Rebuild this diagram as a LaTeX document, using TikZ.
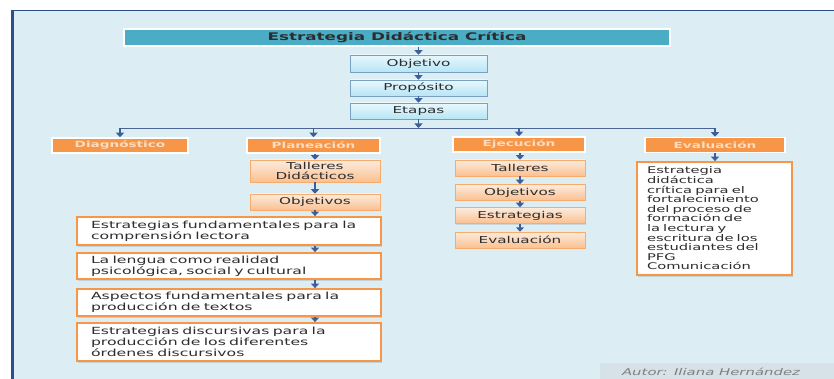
\documentclass[tikz,border=0pt]{standalone}
\usepackage{fontspec}
\setmainfont{DejaVu Sans}[FakeStretch=1.6]
\usetikzlibrary{arrows.meta,shadows}

\definecolor{panelbg}{RGB}{220,237,243}
\definecolor{panelline}{RGB}{47,79,140}
\definecolor{titlefill}{RGB}{75,172,198}
\definecolor{bluetop}{RGB}{232,248,253}
\definecolor{bluebot}{RGB}{183,229,245}
\definecolor{blueline}{RGB}{120,160,195}
\definecolor{orangehd}{RGB}{247,150,70}
\definecolor{orangetxt}{RGB}{252,220,195}
\definecolor{peachtop}{RGB}{253,236,222}
\definecolor{peachbot}{RGB}{250,192,144}
\definecolor{arrowblue}{RGB}{60,95,155}
\definecolor{txtgray}{RGB}{45,45,45}
\definecolor{authorbg}{RGB}{214,226,232}

\begin{document}
\begin{tikzpicture}[x=1pt,y=-1pt,
  box/.style={inner sep=0pt, font=\fontsize{9.5}{10}\selectfont, text=txtgray},
  headline/.style={box, fill=titlefill, draw=white, line width=1.5pt,
    drop shadow={opacity=0.25,shadow xshift=1pt,shadow yshift=-1.5pt},
    font=\fontsize{10.5}{11}\selectfont\bfseries},
  bluebox/.style={box, top color=bluetop, bottom color=bluebot, draw=blueline,
    line width=0.6pt, minimum width=137pt, minimum height=16pt,
    drop shadow={opacity=0.2,shadow xshift=1pt,shadow yshift=-1pt}},
  orangehead/.style={box, fill=orangehd, draw=white, line width=1.5pt,
    text=orangetxt, font=\fontsize{8.5}{10}\selectfont\bfseries, minimum height=15pt,
    drop shadow={opacity=0.2,shadow xshift=1pt,shadow yshift=-1pt}},
  peachbox/.style={box, top color=peachtop, bottom color=peachbot, draw=orangehd!80,
    line width=0.5pt, minimum width=130pt, minimum height=16pt, align=center,
    drop shadow={opacity=0.2,shadow xshift=1pt,shadow yshift=-1pt}},
  textbox/.style={box, fill=white, draw=orangehd, line width=1.8pt, align=left,
    inner xsep=14pt, text width=276pt, minimum height=26pt,
    font=\fontsize{9.8}{10.8}\selectfont,
    drop shadow={opacity=0.25,shadow xshift=1pt,shadow yshift=-1.5pt}},
  arr/.style={draw=arrowblue, line width=1.8pt, -{Triangle[width=8pt,length=4.5pt]}},
  bus/.style={draw=arrowblue!80!gray, line width=0.9pt}
]
\useasboundingbox (0,0) rectangle (834,379);
% panel and its border
\fill[panelbg] (11,10) rectangle (834,379);
\draw[panelline, line width=1.5pt] (11,10.5) -- (834,10.5);
\draw[panelline, line width=3pt] (12.5,379) -- (12.5,10);
\fill[authorbg] (600,363) rectangle (834,379);
\node[font=\fontsize{9.3}{9}\selectfont\itshape, text=gray] (autor) at (711,372) {Autor: Iliana Hernández};

% top chain
\node[headline, minimum width=546pt, minimum height=17pt] (titulo) at (397,37.5) {Estrategia Didáctica Crítica};
\node[bluebox, minimum height=17pt] (objetivo) at (418.5,63.5) {Objetivo};
\node[bluebox] (proposito) at (418.5,88) {Propósito};
\node[bluebox] (etapas) at (418.5,111) {Etapas};
\draw[arr] (titulo.south -| objetivo) -- (objetivo);
\draw[arr] (objetivo) -- (proposito);
\draw[arr] (proposito) -- (etapas);

% bus to the four stages
\coordinate (busL) at (120,128);
\coordinate (busR) at (715,128);
\draw[bus] (busL) -- (busR);
\draw[arr] (etapas) -- (etapas |- busL);

\node[orangehead, minimum width=136pt] (diag) at (120,145.5) {Diagnóstico};
\node[orangehead, minimum width=133pt] (plan) at (313.5,145.5) {Planeación};
\node[orangehead, minimum width=132pt] (ejec) at (519,144.5) {Ejecución};
\node[orangehead, minimum width=140pt] (evalh) at (715,145) {Evaluación};
\draw[arr] (busL) -- (diag);
\draw[arr] (plan |- busL) -- (plan);
\draw[arr] (ejec |- busL) -- (ejec);
\draw[arr] (busR) -- (evalh);

% Planeacion column
\node[peachbox, minimum height=22pt, font=\fontsize{9.5}{10}\selectfont] (talleresd) at (315,171) {Talleres\\Didácticos};
\node[peachbox] (objp) at (315,202) {Objetivos};
\node[textbox, minimum height=28pt] (estfund) at (229,231) {Estrategias fundamentales para la\\comprensión lectora};
\node[textbox] (lengua) at (229,266) {La lengua como realidad\\psicológica, social y cultural};
\node[textbox, minimum height=27pt] (aspectos) at (229,302.5) {Aspectos fundamentales para la\\producción de textos};
\node[textbox, minimum height=38pt] (estdisc) at (229,342) {Estrategias discursivas para la\\producción de los diferentes\\órdenes discursivos};
\draw[arr] (plan.south -| talleresd) -- (talleresd);
\draw[arr] (talleresd) -- (objp);
\draw[arr] (objp.south) -- (estfund.north -| objp);
\draw[arr] (estfund.south -| objp) -- (lengua.north -| objp);
\draw[arr] (lengua.south -| objp) -- (aspectos.north -| objp);
\draw[arr] (aspectos.south -| objp) -- (estdisc.north -| objp);

% Ejecucion column
\node[peachbox] (talleres) at (520,168) {Talleres};
\node[peachbox] (obje) at (520,192.5) {Objetivos};
\node[peachbox] (estrat) at (520,215.5) {Estrategias};
\node[peachbox] (evalu) at (520,240) {Evaluación};
\draw[arr] (ejec.south -| talleres) -- (talleres);
\draw[arr] (talleres) -- (obje);
\draw[arr] (obje) -- (estrat);
\draw[arr] (estrat) -- (evalu);

% Evaluacion column
\node[textbox, text width=135pt, inner xsep=10pt, minimum height=113pt,
  font=\fontsize{9.2}{9.6}\selectfont] (evaltxt) at (714.5,218.5)
  {Estrategia\\didáctica\\crítica para el\\fortalecimiento\\del proceso de\\formación de\\la lectura y\\escritura de los\\estudiantes del\\PFG\\Comunicación};
\draw[arr] (evalh.south) -- (evaltxt.north -| evalh);
\end{tikzpicture}
\end{document}
